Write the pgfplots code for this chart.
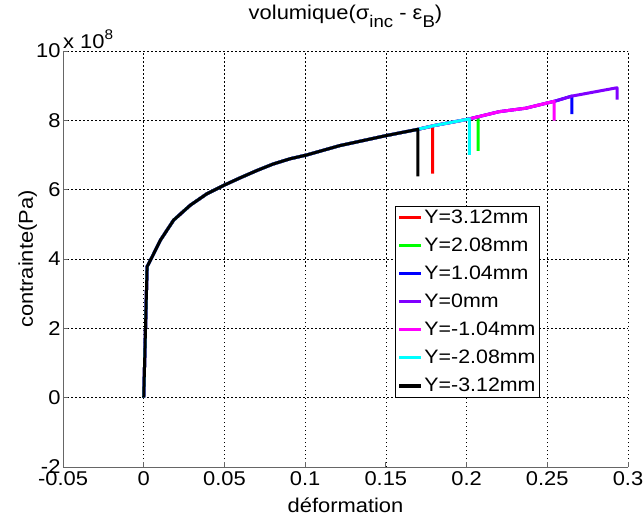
\documentclass[border=0pt]{standalone}
\usepackage{fontspec}
\setmainfont{Liberation Sans}[FakeStretch=1.1]
\usepackage{pgfplots}
\pgfplotsset{compat=1.18}
\usetikzlibrary{calc}
\definecolor{mred}{RGB}{255,0,0}
\definecolor{mgreen}{RGB}{0,255,0}
\definecolor{mblue}{RGB}{0,0,255}
\definecolor{mpurple}{RGB}{128,0,255}
\definecolor{mmagenta}{RGB}{255,0,255}
\definecolor{mcyan}{RGB}{0,255,255}
\newcommand{\msub}[1]{\raisebox{-8bp}{\fontsize{17}{19}\selectfont #1}}
\begin{document}
\begin{tikzpicture}
\begin{axis}[
 scale only axis, width=565bp, height=416bp,
 xmin=-0.05, xmax=0.3, ymin=-2, ymax=10,
 axis x line*=bottom, axis y line*=left,
 axis line style={draw=black!60, line width=0.8bp, -},
 xtick={-0.05,0,0.05,0.1,0.15,0.2,0.25,0.3},
 xticklabels={-0.05,0,0.05,0.1,0.15,0.2,0.25,0.3},
 ytick={-2,0,2,4,6,8,10},
 yticklabels={-2,0,2,4,6,8,10},
 tick align=inside, major tick length=5bp,
 tick style={draw=black!60, line width=0.8bp},
 grid=major, grid style={draw=black, dash pattern=on 1.5bp off 2.5bp, line width=0.7bp},
 ticklabel style={font=\fontsize{20}{22}\selectfont},
 xticklabel style={yshift=-1bp},
 yticklabel style={xshift=1bp},
 title={volumique(σ\msub{inc} - ε\msub{B})},
 title style={font=\fontsize{20}{22}\selectfont, at={(rel axis cs:0.5,1)}, anchor=base, yshift=26bp},
 xlabel={déformation},
 xlabel style={font=\fontsize{20}{22}\selectfont, at={(rel axis cs:0.5,0)}, anchor=base, yshift=-45bp},
 ylabel={contrainte(Pa)},
 ylabel style={font=\fontsize{20}{22}\selectfont, at={($(rel axis cs:0,0.5)+(-30bp,0)$)}, anchor=base},
 legend style={at={(rel axis cs:0.843,0.168)}, anchor=south east, draw=black, line width=0.6bp,
   font=\fontsize{19.5}{22}\selectfont, row sep=10bp, inner sep=2bp,
   nodes={inner sep=1.5bp}},
 legend cell align=left,
 legend image code/.code={\draw[#1, line width=3.5bp] (0bp,0bp) -- (22bp,0bp);},
 every axis plot/.append style={line width=3bp, line join=round},
 clip=false,
]
\addplot[mred] coordinates {(0,0) (0.0021,3.78) (0.0052,4.06) (0.0103,4.54) (0.0185,5.12) (0.0288,5.55) (0.0391,5.88) (0.0494,6.12) (0.0597,6.34) (0.0700,6.55) (0.0802,6.74) (0.0906,6.89) (0.1009,7.00) (0.1214,7.27) (0.1502,7.56) (0.1698,7.74) (0.1790,7.83) (0.1790,6.46)};
\addlegendentry{Y=3.12mm}
\addplot[mgreen] coordinates {(0,0) (0.0021,3.78) (0.0052,4.06) (0.0103,4.54) (0.0185,5.12) (0.0288,5.55) (0.0391,5.88) (0.0494,6.12) (0.0597,6.34) (0.0700,6.55) (0.0802,6.74) (0.0906,6.89) (0.1009,7.00) (0.1214,7.27) (0.1502,7.56) (0.1698,7.74) (0.1800,7.85) (0.2007,8.03) (0.2072,8.10) (0.2072,7.12)};
\addlegendentry{Y=2.08mm}
\addplot[mblue] coordinates {(0,0) (0.0021,3.78) (0.0052,4.06) (0.0103,4.54) (0.0185,5.12) (0.0288,5.55) (0.0391,5.88) (0.0494,6.12) (0.0597,6.34) (0.0700,6.55) (0.0802,6.74) (0.0906,6.89) (0.1009,7.00) (0.1214,7.27) (0.1502,7.56) (0.1698,7.74) (0.1800,7.85) (0.2007,8.03) (0.2202,8.25) (0.2367,8.35) (0.2552,8.56) (0.2652,8.70) (0.2652,8.18)};
\addlegendentry{Y=1.04mm}
\addplot[mpurple] coordinates {(0,0) (0.0021,3.78) (0.0052,4.06) (0.0103,4.54) (0.0185,5.12) (0.0288,5.55) (0.0391,5.88) (0.0494,6.12) (0.0597,6.34) (0.0700,6.55) (0.0802,6.74) (0.0906,6.89) (0.1009,7.00) (0.1214,7.27) (0.1502,7.56) (0.1698,7.74) (0.1800,7.85) (0.2007,8.03) (0.2202,8.25) (0.2367,8.35) (0.2552,8.56) (0.2654,8.70) (0.2932,8.94) (0.2932,8.60)};
\addlegendentry{Y=0mm}
\addplot[mmagenta] coordinates {(0,0) (0.0021,3.78) (0.0052,4.06) (0.0103,4.54) (0.0185,5.12) (0.0288,5.55) (0.0391,5.88) (0.0494,6.12) (0.0597,6.34) (0.0700,6.55) (0.0802,6.74) (0.0906,6.89) (0.1009,7.00) (0.1214,7.27) (0.1502,7.56) (0.1698,7.74) (0.1800,7.85) (0.2007,8.03) (0.2202,8.25) (0.2367,8.35) (0.2543,8.55) (0.2543,7.99)};
\addlegendentry{Y=-1.04mm}
\addplot[mcyan] coordinates {(0,0) (0.0021,3.78) (0.0052,4.06) (0.0103,4.54) (0.0185,5.12) (0.0288,5.55) (0.0391,5.88) (0.0494,6.12) (0.0597,6.34) (0.0700,6.55) (0.0802,6.74) (0.0906,6.89) (0.1009,7.00) (0.1214,7.27) (0.1502,7.56) (0.1698,7.74) (0.1800,7.85) (0.2017,8.04) (0.2017,7.00)};
\addlegendentry{Y=-2.08mm}
\addplot[black] coordinates {(0,0) (0.0021,3.78) (0.0052,4.06) (0.0103,4.54) (0.0185,5.12) (0.0288,5.55) (0.0391,5.88) (0.0494,6.12) (0.0597,6.34) (0.0700,6.55) (0.0802,6.74) (0.0906,6.89) (0.1009,7.00) (0.1214,7.27) (0.1502,7.56) (0.1698,7.74) (0.1698,6.38)};
\addlegendentry{Y=-3.12mm}
\node[anchor=base west, font=\fontsize{20}{22}\selectfont, inner sep=0pt] at ($(rel axis cs:0,1)+(0bp,2bp)$) {x 10\raisebox{9bp}{\fontsize{14}{16}\selectfont 8}};
\end{axis}
\path (current axis.south west) ++(-63bp,-50bp) coordinate (bl);
\path (current axis.north east) ++(16bp,51bp) coordinate (tr);
\pgfresetboundingbox
\path[use as bounding box] (bl) rectangle (tr);
\end{tikzpicture}
\end{document}
